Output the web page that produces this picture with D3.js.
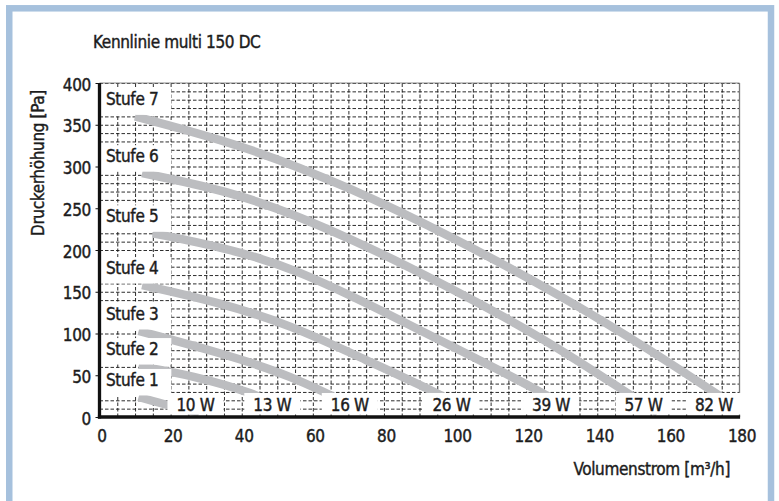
<!DOCTYPE html>
<html>
<head>
<meta charset="utf-8">
<script src="https://cdn.jsdelivr.net/npm/d3@7"></script>
<style>
  body { margin: 0; background: #fff; }
  svg text {
    font-family: "DejaVu Sans Condensed", "DejaVu Sans", sans-serif;
    font-stretch: condensed;
    letter-spacing: -0.35px;
    fill: #1c1c1c;
    stroke: #1c1c1c;
    stroke-width: 0.4px;
  }
</style>
</head>
<body>
<script>
// Values
let chartTitle = 'Kennlinie multi 150 DC'
let xTitle = 'Volumenstrom [m³/h]'
let yTitle = 'Druckerhöhung [Pa]'

let xTicks = [0, 20, 40, 60, 80, 100, 120, 140, 160, 180]
let yTicks = [0, 50, 100, 150, 200, 250, 300, 350, 400]

let stufen = ['Stufe 1', 'Stufe 2', 'Stufe 3', 'Stufe 4', 'Stufe 5', 'Stufe 6', 'Stufe 7']
let leistung = ['10 W', '13 W', '16 W', '26 W', '39 W', '57 W', '82 W']
// volume flow where the power label sits
let leistungVolumen = [27, 48.6, 70.4, 99, 127, 153, 172.8]

// curves: volume flow [m3/h] and pressure [Pa]
let volumen1 = [11, 20, 28]
let druck1 = [24, 13, 5]
let volumen2 = [11, 26, 44, 53]
let druck2 = [61, 50, 28, 8]
let volumen3 = [11, 33, 54, 74]
let druck3 = [103, 78, 50, 7]
let volumen4 = [12, 33, 54, 75, 95, 104]
let druck4 = [158, 138, 110, 68, 29, 8]
let volumen5 = [15, 35, 55, 80, 105, 123, 133]
let druck5 = [220, 203, 178, 126, 72, 33, 8]
let volumen6 = [12, 40, 70, 100, 125, 148, 157]
let druck6 = [292, 268, 216, 152, 94, 30, 5]
let volumen7 = [10, 40, 70, 100, 130, 155, 177]
let druck7 = [360, 326, 276, 214, 145, 80, 18]

let volumen = [volumen1, volumen2, volumen3, volumen4, volumen5, volumen6, volumen7]
let druck = [druck1, druck2, druck3, druck4, druck5, druck6, druck7]

let width = 779
let height = 501
let plot = {left: 99.5, right: 739.5, top: 83, bottom: 417}

let svg = d3.select('body').append('svg')
  .attr('width', width)
  .attr('height', height)

// blue frame round the picture
svg.append('rect')
  .attr('x', 9.25)
  .attr('y', 8.3)
  .attr('width', 761.75)
  .attr('height', 620)
  .style('fill', 'none')
  .style('stroke', '#a6c1dd')
  .style('stroke-width', 6.5)

let x = d3.scaleLinear().domain([0, 180]).range([plot.left, plot.right])
let y = d3.scaleLinear().domain([0, 400]).range([plot.bottom, plot.top])

/* Grid */
let gridX = svg.append('g')
  .attr('transform', `translate(0,${plot.bottom})`)
  .call(d3.axisBottom(x).tickValues(d3.range(5, 180, 5)).tickSize(-(plot.bottom - plot.top)).tickFormat(''))
let gridY = svg.append('g')
  .attr('transform', `translate(${plot.left},0)`)
  .call(d3.axisLeft(y).tickValues(d3.range(10, 401, 10)).tickSize(-(plot.right - plot.left)).tickFormat(''))

svg.selectAll('.domain').remove()
gridX.selectAll('line').style('stroke', '#151515').style('stroke-width', 0.9).style('stroke-dasharray', '3.5,2')
gridY.selectAll('line').style('stroke', '#151515').style('stroke-width', 0.9).style('stroke-dasharray', '3.5,2')

// top and right frame of the plot
svg.append('line')
  .attr('x1', plot.left).attr('x2', plot.right)
  .attr('y1', plot.top).attr('y2', plot.top)
  .style('stroke', '#8a8a8a').style('stroke-width', 1)
svg.append('line')
  .attr('x1', plot.right).attr('x2', plot.right)
  .attr('y1', plot.top).attr('y2', plot.bottom)
  .style('stroke', '#7a7a7a').style('stroke-width', 1.3)

/* Curves */
let line = d3.line()
  .x(d => x(d[0]))
  .y(d => y(d[1]))
  .curve(d3.curveBasis)

let curveData = volumen.map((vs, i) => vs.map((v, j) => [v, druck[i][j]]))

svg.append('g').selectAll('path')
  .data(curveData)
  .enter()
  .append('path')
  .attr('d', line)
  .style('fill', 'none')
  .style('stroke', '#bcbdc0')
  .style('stroke-width', 8.5)
  .style('stroke-linecap', 'butt')

/* Stufe labels with white boxes */
let fontSize = 17
let stufeG = svg.append('g')
stufen.forEach((name, i) => {
  let sy = y(druck[i][0])
  let base = sy - 11
  let g = stufeG.append('g')
  let rect = g.append('rect').style('fill', '#fff')
  let t = g.append('text')
    .attr('x', 106)
    .attr('y', base)
    .style('font-size', fontSize + 'px')
    .text(name)
  let w = t.node().getComputedTextLength()
  rect.attr('x', plot.left + 1.5)
    .attr('y', base - 17)
    .attr('width', 106 + w + 13 - plot.left - 1.5)
    .attr('height', sy - 1.5 - (base - 17))
})

/* Power labels at the curve ends */
let powerG = svg.append('g')
leistung.forEach((name, i) => {
  let cx = x(leistungVolumen[i])
  let g = powerG.append('g')
  let rect = g.append('rect').style('fill', '#fff')
  let t = g.append('text')
    .attr('x', cx)
    .attr('y', 410.5)
    .attr('text-anchor', 'middle')
    .style('font-size', fontSize + 'px')
    .text(name)
  let w = t.node().getComputedTextLength()
  rect.attr('x', cx - w / 2 - 9)
    .attr('y', 393)
    .attr('width', w + 18)
    .attr('height', 21.5)
})

/* Axes */
let yAxis = svg.append('g')
  .attr('transform', `translate(${plot.left},0)`)
  .call(d3.axisLeft(y).tickValues(yTicks).tickSize(4).tickPadding(4.5))
yAxis.select('.domain').remove()
yAxis.selectAll('line').style('stroke', '#111').style('stroke-width', 1)
yAxis.selectAll('text')
  .attr('dy', '0.42em')
  .style('font-size', fontSize + 'px')
  .style('font-family', null)

let xAxis = svg.append('g')
  .attr('transform', `translate(0,${plot.bottom})`)
  .call(d3.axisBottom(x).tickValues(xTicks).tickSize(0).tickPadding(13))
xAxis.select('.domain').remove()
xAxis.selectAll('text')
  .attr('dx', 2)
  .style('font-size', fontSize + 'px')
  .style('font-family', null)

// thick black axis lines
svg.append('line')
  .attr('x1', plot.left).attr('x2', plot.left)
  .attr('y1', plot.top).attr('y2', plot.bottom + 1.6)
  .style('stroke', '#111').style('stroke-width', 3.3)
svg.append('line')
  .attr('x1', plot.left - 1.6).attr('x2', plot.right + 0.6)
  .attr('y1', plot.bottom).attr('y2', plot.bottom)
  .style('stroke', '#111').style('stroke-width', 3.3)

/* Titles */
svg.append('text')
  .attr('x', 93)
  .attr('y', 47.5)
  .style('font-size', fontSize + 'px')
  .text(chartTitle)

svg.append('text')
  .attr('x', 730)
  .attr('y', 474.5)
  .attr('text-anchor', 'end')
  .style('font-size', fontSize + 'px')
  .text(xTitle)

svg.append('text')
  .attr('transform', 'translate(44,163) rotate(-90)')
  .attr('text-anchor', 'middle')
  .style('font-size', fontSize + 'px')
  .text(yTitle)
</script>
</body>
</html>
